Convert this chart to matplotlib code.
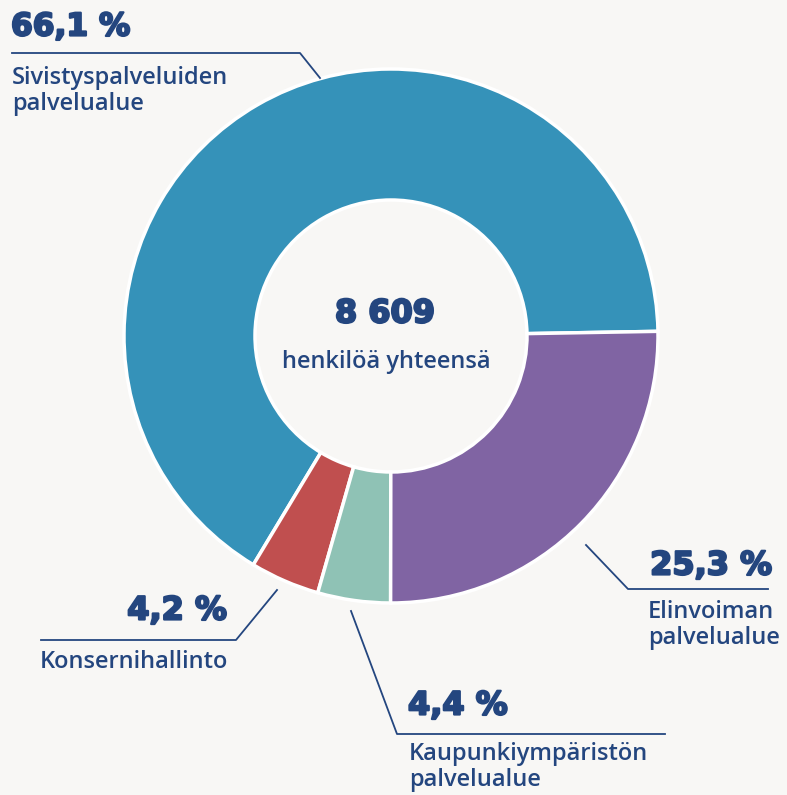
import matplotlib
matplotlib.use("Agg")
import matplotlib.pyplot as plt
import matplotlib.patheffects as pe

# Data
categories = ["Sivistyspalveluiden\npalvelualue", "Konsernihallinto",
              "Kaupunkiympäristön\npalvelualue", "Elinvoiman\npalvelualue"]
shares = [66.1, 4.2, 4.4, 25.3]
share_labels = ["66,1 %", "4,2 %", "4,4 %", "25,3 %"]
colors = ["#3592b9", "#c04f4f", "#8fc2b5", "#8064a3"]
total_label = "8 609"
total_caption = "henkilöä yhteensä"

BG = "#f8f7f5"
NAVY = "#24467f"
W, H = 787, 795

fig = plt.figure(figsize=(W / 100, H / 100), dpi=100, facecolor=BG)
ax = fig.add_axes([0, 0, 1, 1])
ax.set_facecolor(BG)
ax.set_xlim(0, W)
ax.set_ylim(0, H)
ax.set_aspect("equal")
ax.axis("off")

def Y(y):
    return H - y

cx, cy, R = 391, 336, 267
ax.pie(shares, colors=colors, startangle=1, counterclock=True,
       center=(cx, Y(cy)), radius=R,
       wedgeprops=dict(width=131, edgecolor="white", linewidth=2.5))
ax.set_xlim(0, W)
ax.set_ylim(0, H)

thick = [pe.withStroke(linewidth=1.6, foreground=NAVY)]
numfont = dict(family=["DejaVu Sans"], fontweight="bold", color=NAVY,
               path_effects=thick)
labfont = dict(family=["Open Sans", "DejaVu Sans"], fontweight=600, color=NAVY)

# center
ax.text(385, Y(314), total_label, fontsize=23, ha="center", va="center", **numfont)
ax.text(386, Y(362), total_caption, fontsize=17, ha="center", va="center", **labfont)

# leader lines
lw = 1.3
ax.plot([12, 300, 320], [Y(53), Y(53), Y(78)], color=NAVY, lw=lw)
ax.plot([586, 628, 768], [Y(545), Y(589), Y(589)], color=NAVY, lw=lw)
ax.plot([41, 236, 277], [Y(640), Y(640), Y(590)], color=NAVY, lw=lw)
ax.plot([351, 397, 665], [Y(611), Y(734), Y(734)], color=NAVY, lw=lw)

# labels
ax.text(11, Y(27), share_labels[0], fontsize=22.5, ha="left", va="center", **numfont)
ax.text(12, Y(91), categories[0], fontsize=17, ha="left", va="center",
        linespacing=1.1, **labfont)

ax.text(772, Y(566), share_labels[3], fontsize=23, ha="right", va="center", **numfont)
ax.text(648, Y(625), categories[3], fontsize=17, ha="left", va="center",
        linespacing=1.1, **labfont)

ax.text(227, Y(611), share_labels[1], fontsize=23, ha="right", va="center", **numfont)
ax.text(40, Y(662), categories[1], fontsize=17, ha="left", va="center", **labfont)

ax.text(408, Y(706), share_labels[2], fontsize=23, ha="left", va="center", **numfont)
ax.text(409, Y(767), categories[2], fontsize=17, ha="left", va="center",
        linespacing=1.1, **labfont)

fig.savefig("out.png", dpi=100, facecolor=BG)
